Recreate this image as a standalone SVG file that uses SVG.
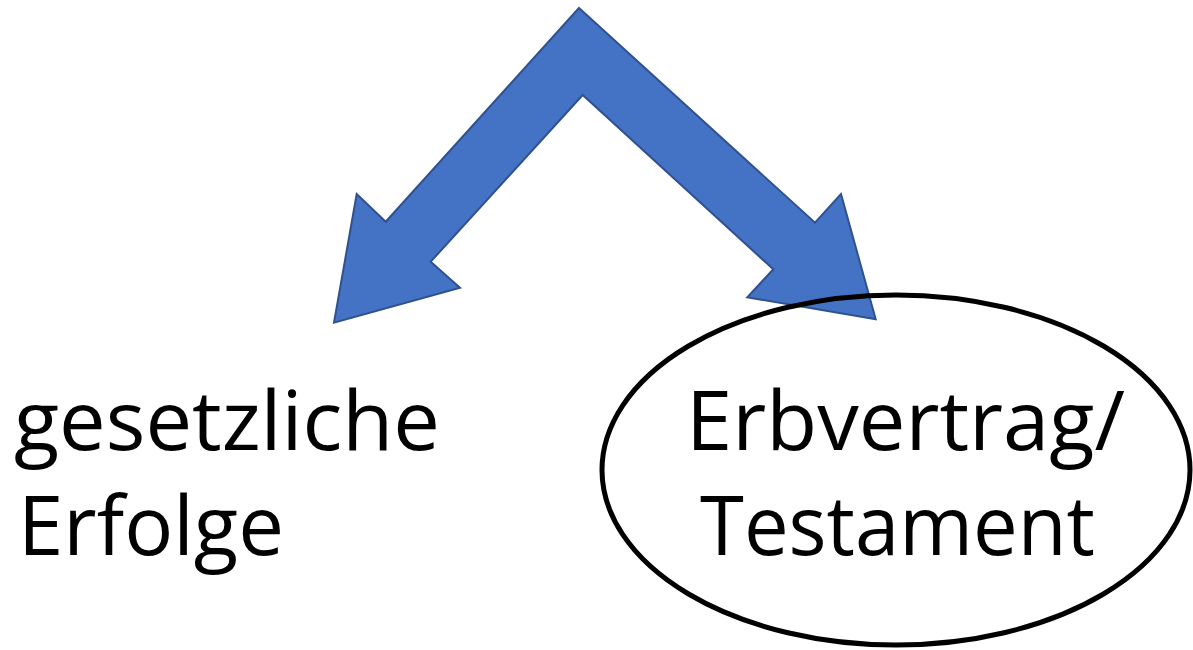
<svg xmlns="http://www.w3.org/2000/svg" width="1193" height="650" viewBox="0 0 1193 650">
<style>
.lbl{font-family:"Open Sans","Noto Sans","Liberation Sans",sans-serif;font-size:82px;fill:#000}
.arrow{fill:#4472C4;stroke:#2F528F;stroke-width:2;stroke-linejoin:miter}
.oval{fill:none;stroke:#000;stroke-width:5}
</style>
<rect width="1193" height="650" fill="#fff"/>
<g id="connectors">
<polygon class="arrow" points="579,8 815,222.7 841,194 875.7,319.3 747.3,297.3 773.3,269.3 582.7,95 430.7,261.7 460,287.7 334,322.7 356.7,194 385.7,221.7"/>
</g>
<g id="node-gesetzliche">
<text class="lbl" x="14" y="450" textLength="426" lengthAdjust="spacingAndGlyphs">gesetzliche</text>
<text class="lbl" x="18" y="555" textLength="266" lengthAdjust="spacingAndGlyphs">Erfolge</text>
</g>
<g id="node-erbvertrag">
<ellipse class="oval" cx="896" cy="470" rx="294" ry="175"/>
<text class="lbl" x="686" y="450" textLength="439" lengthAdjust="spacingAndGlyphs">Erbvertrag/</text>
<text class="lbl" x="700" y="555" textLength="395" lengthAdjust="spacingAndGlyphs">Testament</text>
</g>
</svg>
